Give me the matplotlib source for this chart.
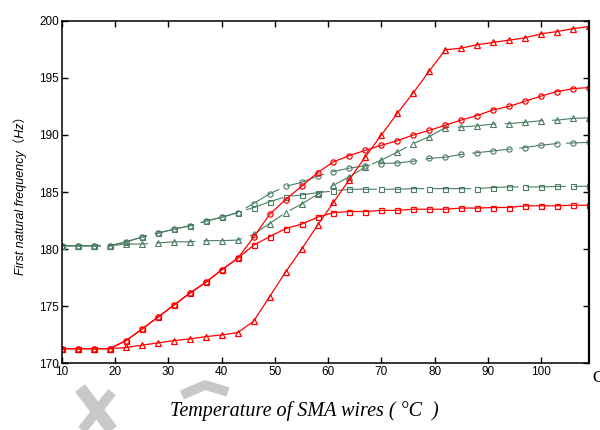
import matplotlib.pyplot as plt
from matplotlib.lines import Line2D

plt.rcParams['lines.scale_dashes'] = False

# Температура проволок SMA
temps = [10, 13, 16, 19, 22, 25, 28, 31, 34, 37, 40, 43, 46, 49, 52, 55, 58,
         61, 64, 67, 70, 73, 76, 79, 82, 85, 88, 91, 94, 97, 100, 103, 106, 109]

# Красные кривые
red_tri = [171.3, 171.3, 171.3, 171.3, 171.4, 171.6, 171.8, 172.0, 172.15, 172.35,
           172.5, 172.7, 173.7, 175.85, 178.0, 180.0, 182.1, 184.1, 186.1, 188.1,
           190.0, 191.9, 193.7, 195.6, 197.45, 197.6, 197.9, 198.1, 198.3, 198.5,
           198.85, 199.05, 199.3, 199.5]
red_circ = [171.3, 171.3, 171.3, 171.3, 172.0, 173.0, 174.05, 175.1, 176.15, 177.1,
            178.2, 179.2, 181.05, 183.05, 184.35, 185.5, 186.7, 187.65, 188.2, 188.65,
            189.1, 189.5, 190.0, 190.4, 190.85, 191.3, 191.7, 192.2, 192.5, 192.95,
            193.4, 193.8, 194.05, 194.15]
red_sq = [171.3, 171.3, 171.3, 171.3, 172.0, 173.0, 174.05, 175.1, 176.15, 177.1,
          178.2, 179.2, 180.35, 181.1, 181.8, 182.2, 182.8, 183.2, 183.3, 183.3,
          183.4, 183.4, 183.5, 183.5, 183.5, 183.6, 183.6, 183.65, 183.65, 183.8,
          183.8, 183.8, 183.85, 183.85]

# Зелёные кривые
green_tri = [180.3, 180.3, 180.3, 180.3, 180.45, 180.45, 180.55, 180.65, 180.65, 180.75,
             180.75, 180.8, 181.3, 182.25, 183.2, 183.95, 184.8, 185.6, 186.35, 187.2,
             187.8, 188.5, 189.25, 189.85, 190.65, 190.7, 190.8, 190.95, 191.0, 191.1,
             191.25, 191.3, 191.45, 191.5]
green_circ = [180.3, 180.3, 180.3, 180.3, 180.65, 181.05, 181.4, 181.75, 182.05, 182.45,
              182.8, 183.2, 184.0, 184.85, 185.5, 185.85, 186.4, 186.8, 187.1, 187.3,
              187.5, 187.55, 187.7, 187.95, 188.05, 188.3, 188.45, 188.6, 188.75, 188.9,
              189.1, 189.25, 189.3, 189.35]
green_sq = [180.3, 180.3, 180.3, 180.3, 180.65, 181.05, 181.4, 181.75, 182.05, 182.45,
            182.8, 183.2, 183.65, 184.15, 184.6, 184.75, 184.95, 185.1, 185.25, 185.25,
            185.25, 185.25, 185.3, 185.3, 185.3, 185.3, 185.3, 185.4, 185.45, 185.45,
            185.45, 185.5, 185.5, 185.5]

red = '#ff0000'
green = '#4a7d62'

fig = plt.figure(figsize=(6, 4.3), dpi=100)
ax = fig.add_axes([0.1033, 0.1547, 0.8784, 0.7972])

# зелёные - штриховые линии
dash = (0, (28, 6))
ax.plot(temps, green_sq, color=green, lw=0.8, ls=dash, marker='s', ms=3.6,
        mfc='none', mec=green, mew=0.8)
ax.plot(temps, green_circ, color=green, lw=0.8, ls=dash, marker='o', ms=3.8,
        mfc='none', mec=green, mew=0.8)
ax.plot(temps, green_tri, color=green, lw=0.8, ls=dash, marker='^', ms=5,
        mfc='none', mec=green, mew=0.8)

# красные - сплошные
ax.plot(temps, red_sq, color=red, lw=0.9, marker='s', ms=3.6, mfc='none', mec=red, mew=0.9)
ax.plot(temps, red_circ, color=red, lw=0.9, marker='o', ms=3.8, mfc='none', mec=red, mew=0.9)
ax.plot(temps, red_tri, color=red, lw=0.9, marker='^', ms=5, mfc='none', mec=red, mew=0.9)

ax.set_xlim(10, 109)
ax.set_ylim(170, 200)
ax.set_xticks([10, 20, 30, 40, 50, 60, 70, 80, 90, 100])
ax.set_yticks([170, 175, 180, 185, 190, 195, 200])
ax.tick_params(direction='in', length=4, width=1, top=True, right=True,
               labelsize=8.5, pad=2)
for lab in ax.get_xticklabels() + ax.get_yticklabels():
    lab.set_family('Liberation Sans')
for s in ax.spines.values():
    s.set_linewidth(1.1)
ax.spines['right'].set_linewidth(1.6)

ax.set_ylabel('First natural frequency（Hz）', family=['Liberation Sans', 'Noto Sans CJK SC'],
              style='italic', fontsize=9, labelpad=9)

fig.text(0.508, 0.043, 'Temperature of SMA wires ( °C  )', family='Liberation Serif',
         style='italic', fontsize=14.5, ha='center', va='center')
fig.text(0.987, 0.122, 'C', family='Liberation Serif', fontsize=12, ha='left', va='center')

# серый водяной знак
wm = '#c8c8c8'
fig.add_artist(Line2D([80 / 600, 112 / 600], [1 - 388 / 430, 1 - 430 / 430],
                      transform=fig.transFigure, color=wm, lw=9, solid_capstyle='butt'))
fig.add_artist(Line2D([112 / 600, 82 / 600], [1 - 392 / 430, 1 - 430 / 430],
                      transform=fig.transFigure, color=wm, lw=7, solid_capstyle='butt'))
fig.add_artist(Line2D([182 / 600, 205 / 600, 228 / 600], [1 - 395 / 430, 1 - 385 / 430, 1 - 392 / 430],
                      transform=fig.transFigure, color=wm, lw=7, solid_capstyle='butt'))

fig.savefig('out.png', dpi=100)
